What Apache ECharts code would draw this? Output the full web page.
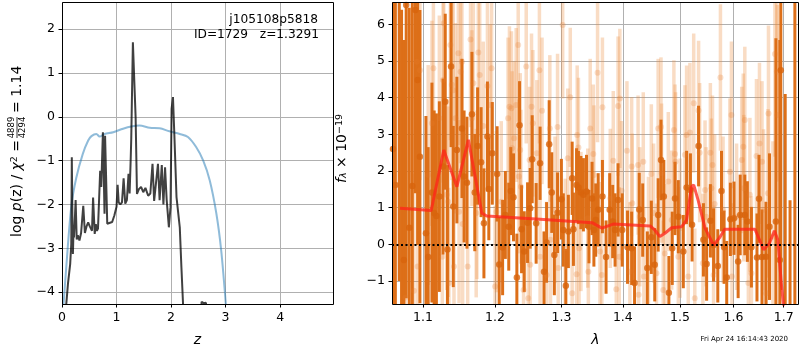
<!DOCTYPE html>
<html>
<head>
<meta charset="utf-8">
<script src="https://cdn.jsdelivr.net/npm/echarts@6/dist/echarts.min.js"></script>
<style>
  html, body { margin: 0; padding: 0; background: #fff; }
  #chart { width: 800px; height: 350px; }
</style>
</head>
<body>
<div id="chart"></div>
<script>
// ---- left panel: log p(z) ----
const pzZ = [0.04,0.08,0.11,0.15,0.17,0.18,0.19,0.20,0.21,0.22,0.24,0.25,0.27,0.29,0.32,0.35,0.39,0.42,0.45,0.48,
  0.51,0.55,0.57,0.60,0.62,0.64,0.66,0.70,0.72,0.75,0.78,0.79,0.83,0.86,0.92,0.96,1.00,1.02,1.04,1.07,
  1.10,1.13,1.16,1.19,1.22,1.24,1.26,1.27,1.30,1.32,1.35,1.375,1.41,1.45,1.49,1.53,1.58,1.62,1.66,1.69,
  1.72,1.76,1.79,1.83,1.86,1.89,1.92,1.96,1.99,2.01,2.035,2.06,2.10,2.16,2.19,2.22,2.25,2.55,2.56,2.60,2.64,2.66];
const pzLog = [-4.6,-4.25,-3.8,-3.36,-2.9,-0.92,-2.2,-3.13,-2.65,-2.75,-2.2,-1.9,-2.8,-2.7,-2.82,-2.65,-2.03,-2.65,-2.5,-2.41,
  -2.5,-2.6,-1.84,-2.67,-2.45,-2.6,-2.55,-1.23,-1.6,-0.35,-2.21,-0.43,-2.44,-2.47,-2.4,-2.25,-2.05,-1.55,-1.95,-2.0,
  -1.95,-1.4,-1.98,-1.9,-1.3,-1.75,-0.96,-0.5,1.7,1.74,0.0,-1.76,-1.65,-1.6,-1.72,-1.62,-1.8,-1.75,-1.07,-1.92,
  -1.95,-1.07,-1.9,-1.1,-2.0,-1.15,-1.9,-2.52,-2.06,0.18,0.45,-0.39,-1.83,-2.52,-3.43,-4.27,-4.7,-4.8,-4.22,-4.25,-4.24,-4.8];
const priorZ = [0.01,0.08,0.17,0.26,0.38,0.48,0.54,0.63,0.69,0.78,0.94,1.12,1.27,1.42,1.61,1.79,1.97,2.16,2.31,2.46,2.59,2.71,2.83,2.92,3.0,3.02];
const priorLog = [-4.6,-3.4,-2.05,-1.4,-0.85,-0.54,-0.44,-0.39,-0.45,-0.39,-0.35,-0.27,-0.22,-0.2,-0.25,-0.26,-0.33,-0.39,-0.46,-0.69,-1.0,-1.45,-2.2,-3.05,-4.2,-4.6];
const zTicks = [0, 1, 2, 3, 4];
const pzTicks = [-4, -3, -2, -1, 0, 1, 2];

// ---- right panel: spectrum ----
const darkWave = [1.061,1.064,1.069,1.072,1.075,1.078,1.082,1.086,1.090,1.093,
  1.096,1.104,1.107,1.112,1.115,1.118,1.122,1.127,1.130,1.133,
  1.138,1.141,1.146,1.153,1.156,1.160,1.167,1.171,1.175,1.180,
  1.184,1.189,1.191,1.196,1.203,1.206,1.211,1.215,1.220,1.223,
  1.227,1.232,1.236,1.239,1.243,1.248,1.252,1.255,1.261,1.267,
  1.273,1.277,1.281,1.285,1.289,1.294,1.300,1.303,1.307,1.311,
  1.317,1.319,1.324,1.327,1.331,1.335,1.340,1.344,1.349,1.352,
  1.355,1.359,1.366,1.372,1.378,1.383,1.387,1.392,1.399,1.408,
  1.415,1.420,1.428,1.434,1.442,1.449,1.455,1.461,1.466,1.471,
  1.480,1.486,1.491,1.497,1.506,1.512,1.519,1.522,1.534,1.543,
  1.549,1.556,1.562,1.570,1.577,1.582,1.587,1.594,1.601,1.609,
  1.613,1.622,1.627,1.635,1.646,1.650,1.656,1.664,1.671,1.684,
  1.692,1.694,1.703,1.713,1.723];
const darkFlux = [2.60,1.62,8.0,-2.6,-0.43,6.53,0.45,1.59,6.39,4.48,
  2.39,0.30,-0.35,1.41,0.85,0.77,1.30,2.12,3.89,-0.14,
  4.85,1.03,2.57,3.16,1.85,1.68,3.55,1.41,2.68,2.24,
  0.57,2.94,1.51,2.48,1.92,-0.55,-0.09,0.80,0.48,1.45,
  1.28,-0.91,3.25,0.41,-0.20,0.59,0.98,2.32,0.57,2.21,
  -0.75,0.05,2.73,1.41,-0.29,0.86,1.23,0.39,-1.13,0.35,
  1.80,0.41,1.62,1.55,1.41,1.35,1.44,0.48,1.25,0.39,
  0.66,0.94,1.30,-0.35,0.94,0.62,0.39,1.21,0.39,-0.08,
  -0.11,-1.06,0.95,0.66,-0.65,0.19,-0.56,0.80,2.30,1.30,
  -1.32,-0.11,1.25,0.75,-0.20,1.55,1.48,0.53,2.68,0.12,
  -0.54,0.64,-0.02,-0.59,1.45,-0.08,-0.91,0.68,0.71,-0.47,
  0.80,0.80,0.62,-0.08,-0.36,1.24,-0.35,-0.34,0.48,0.62,
  -0.43,4.75,-2.2,-3.5,7.5];
const darkErr = [7,7,9,9,6,8,6,5,5,4.5,
  4,3.2,3,3,2.8,2.8,2.6,2.4,2.4,2.3,
  2.2,2.2,2.0,1.9,1.8,1.8,1.7,1.6,1.6,1.5,
  1.5,1.5,1.4,1.4,1.3,1.3,1.3,1.2,1.2,1.2,
  1.2,1.2,1.2,1.2,1.1,1.1,1.1,1.2,1.1,1.0,
  1.1,1.1,1.2,1.1,1.1,1.1,1.1,1.0,1.0,1.0,
  1.0,1.0,1.0,1.0,1.0,1.0,1.0,1.0,1.0,1.0,
  1.0,1.0,1.0,1.0,1.0,1.0,1.0,1.0,1.0,1.0,
  1.0,1.0,1.0,1.0,1.0,1.0,1.0,1.0,1.1,1.0,
  1.0,1.0,1.0,1.0,1.0,1.0,1.0,1.0,1.1,1.0,
  1.0,1.0,1.0,1.0,1.1,1.0,1.0,1.0,1.0,1.0,
  1.1,1.1,1.1,1.1,1.2,1.2,1.3,1.5,2.0,5,
  6,6,6.3,4.7,10];

const lightWave = [1.077,1.088,1.092,1.093,1.096,1.107,1.112,1.114,1.122,1.127,
  1.128,1.126,1.132,1.134,1.135,1.137,1.139,1.141,1.142,1.144,
  1.148,1.149,1.151,1.153,1.154,1.161,1.165,1.167,1.169,1.173,
  1.174,1.176,1.178,1.183,1.189,1.193,1.195,1.200,1.202,1.209,
  1.219,1.221,1.224,1.225,1.228,1.231,1.234,1.235,1.237,1.238,
  1.242,1.246,1.249,1.251,1.252,1.254,1.256,1.262,1.266,1.267,
  1.270,1.277,1.282,1.283,1.290,1.294,1.295,1.302,1.306,1.310,
  1.314,1.317,1.324,1.325,1.327,1.328,1.331,1.342,1.343,1.346,
  1.351,1.352,1.358,1.362,1.365,1.366,1.379,1.384,1.389,1.392,
  1.394,1.395,1.398,1.407,1.412,1.415,1.416,1.426,1.427,1.429,
  1.435,1.436,1.444,1.449,1.453,1.458,1.461,1.466,1.467,1.470,
  1.473,1.479,1.485,1.489,1.491,1.492,1.497,1.500,1.509,1.512,
  1.515,1.518,1.525,1.527,1.534,1.536,1.542,1.546,1.548,1.556,
  1.558,1.560,1.562,1.564,1.575,1.580,1.593,1.596,1.597,1.606,
  1.616,1.619,1.620,1.622,1.629,1.632,1.635,1.645,1.651,1.656,
  1.659,1.664,1.668,1.669,1.678,1.682,1.686,1.687];
const lightFlux = [-1.45,-1.27,4.98,-0.61,4.75,1.89,3.30,4.80,3.44,4.48,
  6.03,-0.34,1.35,1.16,-1.06,5.44,4.35,4.20,-0.61,3.44,
  5.21,0.89,4.71,4.98,0.55,-0.61,5.59,3.44,4.39,0.85,
  1.35,5.23,4.62,3.23,4.32,3.80,4.80,-1.15,0.89,1.16,
  3.44,3.75,3.71,2.62,2.89,3.80,5.44,1.85,2.57,1.57,
  -1.25,4.85,-1.47,2.30,-0.56,3.75,3.30,2.48,4.75,-0.34,
  3.64,-0.84,3.16,0.12,0.94,3.20,-0.65,5.98,-0.11,2.35,
  4.01,-1.34,-0.82,2.98,2.64,-0.11,0.62,0.71,-0.75,3.16,
  2.46,1.89,4.68,-0.20,-0.84,3.74,1.25,2.28,-1.23,3.77,
  -0.34,3.98,1.46,2.55,-0.75,2.12,1.12,2.16,-1.38,0.75,
  2.25,-0.88,-0.06,1.92,0.85,-0.79,3.16,3.20,1.94,-1.25,
  -0.25,1.71,0.66,3.12,2.46,2.25,-0.34,0.44,2.44,2.98,
  -0.88,3.05,3.85,-1.47,3.65,2.50,-0.52,1.48,0.75,2.50,
  1.53,2.16,-0.84,1.10,4.55,0.94,1.98,3.53,-0.88,0.75,
  2.30,2.66,1.53,3.39,-1.06,1.35,-0.79,2.41,2.75,2.25,
  0.94,-1.34,1.39,3.57,0.21,5.19,4.71,3.53];
const lightErr = [3.2,3.2,3.0,3.0,3.0,3.0,2.8,2.8,2.8,2.8,
  2.6,2.6,2.6,2.6,2.6,2.6,2.6,2.6,2.6,2.6,
  2.5,2.5,2.5,2.4,2.4,2.4,2.4,2.4,2.4,2.3,
  2.3,2.3,2.3,2.3,2.3,2.2,2.2,2.2,2.2,2.2,
  2.2,2.2,2.1,2.1,2.1,2.1,2.1,2.1,2.1,2.1,
  2.1,2.1,2.0,2.0,2.0,2.0,2.0,2.0,2.0,2.0,
  2.0,2.0,2.0,2.0,2.0,2.0,2.0,2.0,1.9,1.9,
  1.9,1.9,1.9,1.9,1.9,1.9,1.9,1.9,1.9,1.9,
  1.9,1.9,1.9,1.9,1.9,1.9,1.9,1.9,1.9,1.9,
  1.9,1.9,1.9,1.9,1.9,1.9,1.9,1.9,1.9,1.9,
  1.9,1.9,1.9,1.9,1.9,1.9,1.9,1.9,1.9,1.9,
  1.9,1.9,1.9,1.9,1.9,1.9,1.9,1.9,1.9,1.9,
  1.9,1.9,1.9,1.9,1.9,1.9,1.9,1.9,1.9,1.9,
  1.9,1.9,1.9,1.9,2.0,2.0,2.0,2.0,2.0,2.0,
  2.0,2.0,2.0,2.0,2.0,2.1,2.1,2.1,2.2,2.2,
  2.2,2.3,2.3,2.4,2.6,2.8,3.0,3.0];

const modelWave = [1.070,1.111,1.128,1.146,1.162,1.181,1.188,1.267,1.349,1.365,1.384,1.447,1.455,1.464,1.473,1.485,
  1.503,1.512,1.521,1.525,1.533,1.546,1.562,1.574,1.583,1.642,1.651,1.659,1.671,1.681,1.688,1.695,1.702];
const modelFlux = [0.98,0.92,2.57,1.57,2.85,0.85,0.77,0.68,0.59,0.44,0.55,0.50,0.39,0.21,0.30,0.45,
  0.48,0.66,1.57,1.62,1.21,0.44,-0.02,0.19,0.41,0.41,0.12,-0.15,0.03,0.37,0.12,-1.06,-2.0];
const waveTicks = [1.1, 1.2, 1.3, 1.4, 1.5, 1.6, 1.7];
const fluxTicks = [-1, 0, 1, 2, 3, 4, 5, 6];

const FONT = 'DejaVu Sans';
const chart = echarts.init(document.getElementById('chart'));

function minus(v) {
  return v < 0 ? '\u2212' + Math.abs(v) : String(v);
}

function errorBars(color, width) {
  return function (params, api) {
    const x = api.value(0), y = api.value(1), e = api.value(2);
    const top = api.coord([x, y + e]);
    const bot = api.coord([x, y - e]);
    return {
      type: 'line',
      shape: { x1: top[0], y1: top[1], x2: bot[0], y2: bot[1] },
      style: { stroke: color, lineWidth: width }
    };
  };
}

// custom tick positions for an axis (ticks, labels and grid lines)
function ticksAt(vals, fmt) {
  return {
    axisTick: { customValues: vals, length: 3.5, lineStyle: { color: '#000', width: 1 } },
    axisLabel: { customValues: vals, formatter: fmt, color: '#000', fontSize: 12.5, fontFamily: FONT, margin: 7 }
  };
}

const lnTicks = waveTicks.map(w => Math.log(w));
const darkData = darkWave.map((w, i) => [Math.log(w), darkFlux[i], darkErr[i]]);
const lightData = lightWave.map((w, i) => [Math.log(w), lightFlux[i], lightErr[i]]);

const baseAxis = {
  type: 'value',
  axisLine: { show: false, onZero: false },
  splitLine: { lineStyle: { color: '#b0b0b0', width: 1 } },
  nameTextStyle: { color: '#000', fontSize: 14, fontFamily: FONT, fontStyle: 'italic' }
};

chart.setOption({
  animation: false,
  textStyle: { fontFamily: FONT },
  grid: [
    { left: 62, top: 2, width: 271, height: 302, outerBoundsMode: 'none' },
    { left: 392, top: 2, width: 407, height: 302, outerBoundsMode: 'none' }
  ],
  xAxis: [
    Object.assign({}, baseAxis, ticksAt(zTicks, minus), {
      gridIndex: 0, min: 0, max: 4.97,
      name: 'z', nameLocation: 'middle', nameGap: 29
    }),
    Object.assign({}, baseAxis, ticksAt(lnTicks, v => Math.exp(v).toFixed(1)), {
      gridIndex: 1, min: Math.log(1.0597), max: Math.log(1.7316),
      name: 'λ', nameLocation: 'middle', nameGap: 29
    })
  ],
  yAxis: [
    Object.assign({}, baseAxis, ticksAt(pzTicks, minus), { gridIndex: 0, min: -4.27, max: 2.62 }),
    Object.assign({}, baseAxis, ticksAt(fluxTicks, minus), { gridIndex: 1, min: -1.63, max: 6.61 })
  ],
  series: [
    {
      type: 'line', xAxisIndex: 0, yAxisIndex: 0, clip: true,
      data: priorZ.map((z, i) => [z, priorLog[i]]),
      showSymbol: false, smooth: 0.3,
      lineStyle: { color: 'rgba(31,119,180,0.5)', width: 2 }
    },
    {
      type: 'line', xAxisIndex: 0, yAxisIndex: 0, clip: true,
      data: pzZ.map((z, i) => [z, pzLog[i]]),
      showSymbol: false,
      lineStyle: { color: 'rgba(0,0,0,0.75)', width: 2 }
    },
    {
      type: 'custom', xAxisIndex: 1, yAxisIndex: 1, clip: true,
      renderItem: errorBars('rgba(235,140,60,0.3)', 3.5),
      data: lightData, silent: true
    },
    {
      type: 'scatter', xAxisIndex: 1, yAxisIndex: 1, clip: true,
      data: lightData, symbolSize: 6,
      itemStyle: { color: 'rgba(230,125,45,0.3)' }, silent: true
    },
    {
      type: 'custom', xAxisIndex: 1, yAxisIndex: 1, clip: true,
      renderItem: errorBars('#dd6f18', 3),
      data: darkData, silent: true
    },
    {
      type: 'scatter', xAxisIndex: 1, yAxisIndex: 1, clip: true,
      data: darkData, symbolSize: 6.5,
      itemStyle: { color: '#d8640c' }, silent: true,
      markLine: {
        silent: true, symbol: 'none', label: { show: false },
        lineStyle: { color: '#000', type: [2, 2.5], width: 2 },
        data: [{ yAxis: 0 }]
      }
    },
    {
      type: 'line', xAxisIndex: 1, yAxisIndex: 1, clip: true,
      data: modelWave.map((w, i) => [Math.log(w), modelFlux[i]]),
      showSymbol: false,
      lineStyle: { color: 'rgba(255,35,25,0.75)', width: 3 }
    }
  ],
  graphic: [
    { type: 'rect', z: 100, silent: true, shape: { x: 62.5, y: 2.5, width: 271, height: 302 },
      style: { fill: null, stroke: '#000', lineWidth: 1 } },
    { type: 'rect', z: 100, silent: true, shape: { x: 392.5, y: 2.5, width: 406, height: 302 },
      style: { fill: null, stroke: '#000', lineWidth: 1 } },
    { type: 'text', z: 100, x: 318, y: 20,
      style: { text: 'j105108p5818', fontSize: 12.2, fontFamily: FONT, fill: '#000', align: 'right', verticalAlign: 'middle' } },
    { type: 'text', z: 100, x: 319, y: 35,
      style: { text: 'ID=1729   z=1.3291', fontSize: 12.2, fontFamily: FONT, fill: '#000', align: 'right', verticalAlign: 'middle' } },
    { type: 'text', z: 100, x: 788, y: 339,
      style: { text: 'Fri Apr 24 16:14:43 2020', fontSize: 7, fontFamily: FONT, fill: '#000', align: 'right', verticalAlign: 'middle' } },
    {
      type: 'group', x: 17, y: 237, rotation: Math.PI / 2,
      children: [
        { type: 'text', x: 0, y: 0,
          style: {
            text: 'log {i|p}(z) / {i|χ}{s|2} =',
            fontSize: 14, fontFamily: FONT, fill: '#000', align: 'left', verticalAlign: 'middle',
            rich: {
              i: { fontSize: 14, fontStyle: 'italic', fontFamily: FONT },
              s: { fontSize: 9.5, fontFamily: FONT, verticalAlign: 'top' }
            }
          } },
        { type: 'text', x: 109.5, y: -5.5,
          style: { text: '4889', fontSize: 8.5, fontFamily: FONT, fill: '#000', align: 'center', verticalAlign: 'middle' } },
        { type: 'line', shape: { x1: 99, y1: 0, x2: 120, y2: 0 }, style: { stroke: '#000', lineWidth: 0.8 } },
        { type: 'text', x: 109.5, y: 5.5,
          style: { text: '4294', fontSize: 8.5, fontFamily: FONT, fill: '#000', align: 'center', verticalAlign: 'middle' } },
        { type: 'text', x: 124, y: 0,
          style: { text: '= 1.14', fontSize: 14, fontFamily: FONT, fill: '#000', align: 'left', verticalAlign: 'middle' } }
      ]
    },
    {
      type: 'group', x: 342, y: 183, rotation: Math.PI / 2,
      children: [
        { type: 'text', x: 0, y: 0,
          style: {
            text: '{i|f}{b|λ} × 10{s|−19}',
            fontSize: 14, fontFamily: FONT, fill: '#000', align: 'left', verticalAlign: 'middle',
            rich: {
              i: { fontSize: 14, fontStyle: 'italic', fontFamily: FONT },
              b: { fontSize: 9.5, fontStyle: 'italic', fontFamily: FONT, verticalAlign: 'bottom' },
              s: { fontSize: 9.5, fontFamily: FONT, verticalAlign: 'top' }
            }
          } }
      ]
    }
  ]
});
</script>
</body>
</html>
